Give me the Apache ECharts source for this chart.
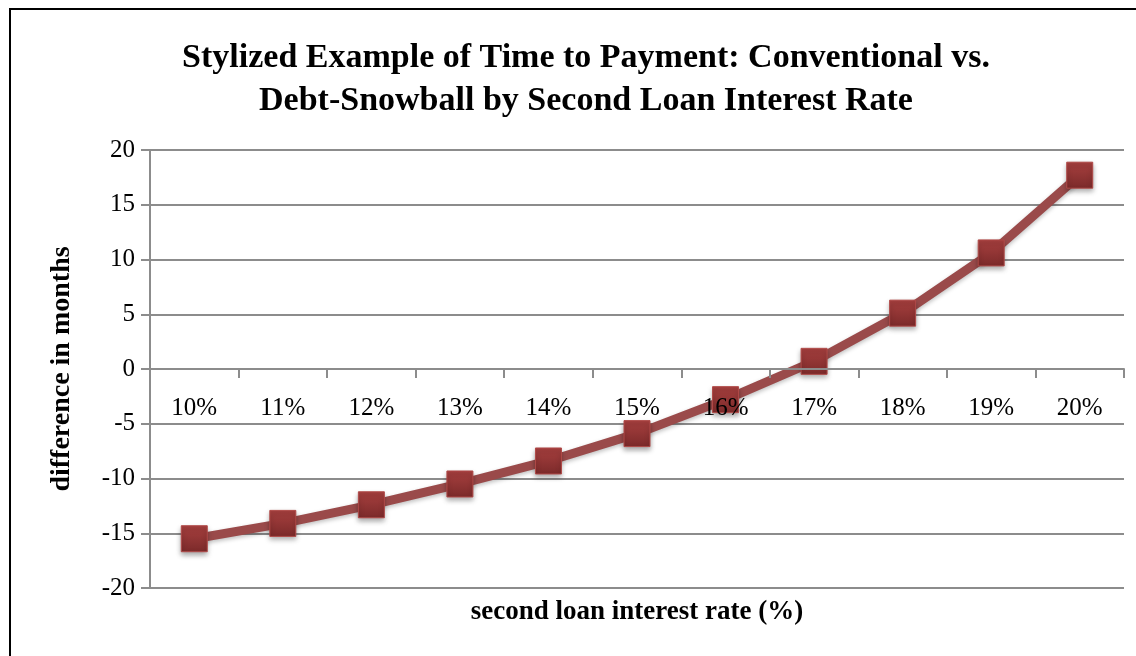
<!DOCTYPE html>
<html>
<head>
<meta charset="utf-8">
<script src="https://cdn.jsdelivr.net/npm/echarts@6/dist/echarts.min.js"></script>
<style>
  html, body { margin: 0; padding: 0; background: #fff; }
  #main { width: 1136px; height: 656px; }
</style>
</head>
<body>
<div id="main"></div>
<script>
// second loan interest rate categories
var rates = ['10%', '11%', '12%', '13%', '14%', '15%', '16%', '17%', '18%', '19%', '20%'];
// difference in months (conventional vs. debt-snowball)
var diffMonths = [-15.5, -14.1, -12.4, -10.5, -8.4, -5.9, -2.8, 0.7, 5.1, 10.6, 17.7];
var yTicks = [-20, 20, 5]; // min, max, interval

var serif = '"Liberation Serif", "DejaVu Serif", serif';
var chart = echarts.init(document.getElementById('main'));

var option = {
    backgroundColor: '#fff',
    animation: false,
    title: {
        text: 'Stylized Example of Time to Payment: Conventional vs.\nDebt-Snowball by Second Loan Interest Rate',
        left: 581,
        top: 32,
        textAlign: 'center',
        textStyle: {
            fontFamily: serif,
            fontWeight: 'bold',
            fontSize: 34,
            lineHeight: 43,
            color: '#000'
        }
    },
    graphic: [{
        type: 'rect',
        shape: { x: 10, y: 9, width: 1300, height: 800 },
        style: { fill: 'none', stroke: '#000', lineWidth: 2 },
        silent: true
    }],
    grid: {
        left: 150,
        right: 12,
        top: 150,
        bottom: 68,
        outerBoundsMode: 'none',
        containLabel: false
    },
    xAxis: {
        type: 'category',
        data: rates,
        boundaryGap: true,
        position: 'bottom',
        offset: -219,   // sits on the zero line
        z: 4,           // labels drawn over the markers, like the original
        name: 'second loan interest rate (%)',
        nameLocation: 'middle',
        nameGap: 230,
        nameTextStyle: {
            fontFamily: serif,
            fontWeight: 'bold',
            fontSize: 27,
            color: '#000'
        },
        axisLine: { onZero: false, lineStyle: { color: '#8c8c8c', width: 2 } },
        axisTick: { show: true, length: 9, lineStyle: { color: '#8c8c8c', width: 2 } },
        axisLabel: {
            margin: 27,
            fontFamily: serif,
            fontSize: 25,
            color: '#000'
        }
    },
    yAxis: {
        type: 'value',
        min: yTicks[0],
        max: yTicks[1],
        interval: yTicks[2],
        name: 'difference in months',
        nameLocation: 'middle',
        nameRotate: 90,
        nameGap: 74,
        nameTextStyle: {
            fontFamily: serif,
            fontWeight: 'bold',
            fontSize: 28,
            color: '#000'
        },
        axisLine: { show: true, lineStyle: { color: '#8c8c8c', width: 2 } },
        axisTick: { show: true, length: 9, lineStyle: { color: '#8c8c8c', width: 2 } },
        axisLabel: {
            margin: 15,
            fontFamily: serif,
            fontSize: 25,
            color: '#000'
        },
        splitLine: { lineStyle: { color: '#8c8c8c', width: 2 } }
    },
    series: [{
        type: 'line',
        data: diffMonths,
        symbol: 'rect',
        symbolSize: 26,
        lineStyle: {
            color: '#9a4a4a',
            width: 9,
            shadowColor: 'rgba(0,0,0,0.25)',
            shadowBlur: 4,
            shadowOffsetY: 2
        },
        itemStyle: {
            color: new echarts.graphic.LinearGradient(0, 0, 0, 1, [
                { offset: 0, color: '#a8403f' },
                { offset: 1, color: '#7b2a2a' }
            ]),
            borderColor: '#b04a48',
            borderWidth: 1,
            shadowColor: 'rgba(0,0,0,0.35)',
            shadowBlur: 5,
            shadowOffsetY: 3
        },
        z: 3
    }]
};
chart.setOption(option);
</script>
</body>
</html>
